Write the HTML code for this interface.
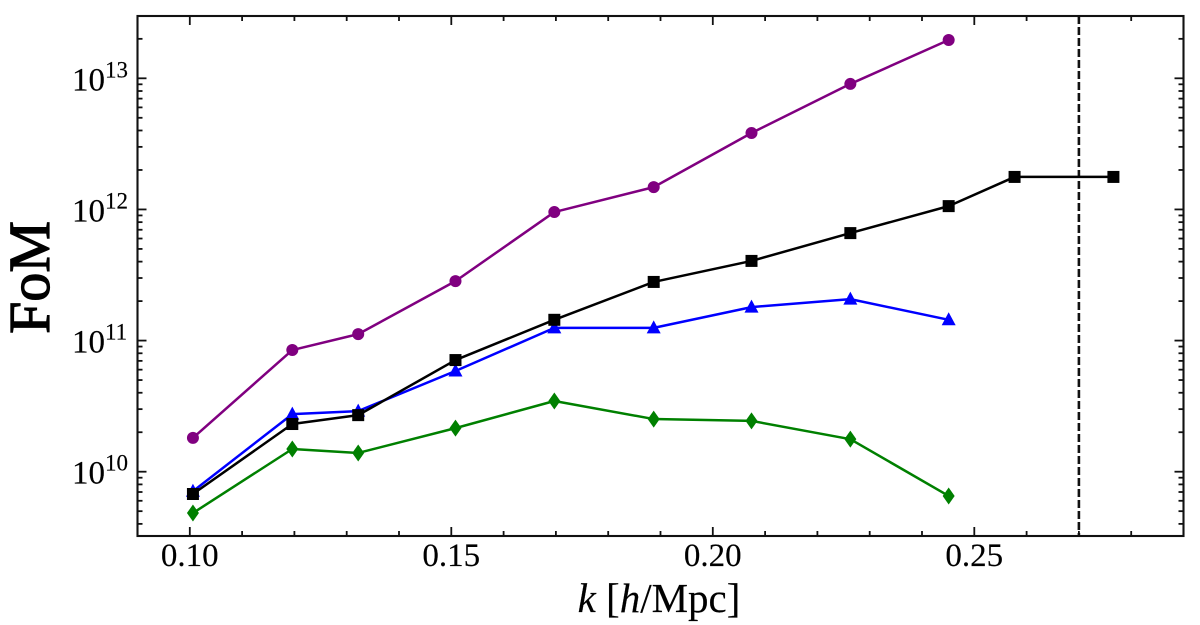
<!DOCTYPE html>
<html>
<head>
<meta charset="utf-8">
<title>FoM vs k</title>
<style>
html,body{margin:0;padding:0;background:#fff;width:1200px;height:625px;overflow:hidden}
svg{display:block}
text{font-family:"Liberation Serif",serif;fill:#000;stroke:#000;stroke-width:0.15px}
</style>
</head>
<body>
<svg id="chart" xmlns="http://www.w3.org/2000/svg" width="1200" height="625" viewBox="0 0 1200 625"></svg>
<script>
const kValues = [0.1006, 0.1196, 0.1322, 0.1508, 0.1697, 0.1887, 0.2074, 0.2263, 0.2451, 0.2577, 0.2766];
const purpleValues = [1.81e10, 8.47e10, 1.12e11, 2.84e11, 9.55e11, 1.48e12, 3.83e12, 9.06e12, 1.96e13];
const blueValues = [7.1e9, 2.75e10, 2.9e10, 5.86e10, 1.25e11, 1.25e11, 1.8e11, 2.07e11, 1.44e11];
const blackValues = [6.76e9, 2.31e10, 2.7e10, 7.1e10, 1.44e11, 2.8e11, 4.05e11, 6.6e11, 1.06e12, 1.77e12, 1.77e12];
const greenValues = [4.84e9, 1.49e10, 1.39e10, 2.15e10, 3.46e10, 2.52e10, 2.44e10, 1.77e10, 6.53e9];
const xTickLabels = ['0.10', '0.15', '0.20', '0.25'];
const xMinorTicks = [0.09, 0.10, 0.11, 0.12, 0.13, 0.14, 0.15, 0.16, 0.17, 0.18, 0.19, 0.20, 0.21, 0.22, 0.23, 0.24, 0.25, 0.26, 0.27, 0.28, 0.29];
const yExponents = [10, 11, 12, 13];
const yMinorMultipliers = [2, 3, 4, 5, 6, 7, 8, 9];
const cutoffK = [0.27];

const NS = 'http://www.w3.org/2000/svg';
const svg = document.getElementById('chart');
const L = 137.5, R = 1183.5, T = 16, B = 536;
const INK = '#111';
function xScale(k) { return L + (k - 0.09) / 0.2 * (R - L); }
function yScale(v) { return 471.7 - (Math.log10(v) - 10) * 131.13; }
function make(tag, attrs, parent) {
  const el = document.createElementNS(NS, tag);
  for (const a in attrs) el.setAttribute(a, attrs[a]);
  (parent || svg).appendChild(el);
  return el;
}
function tick(x1, y1, x2, y2, w, name) {
  const t = make('line', { x1: x1, y1: y1, x2: x2, y2: y2, stroke: INK, 'stroke-width': w });
  
  
}

// x ticks
xMinorTicks.forEach(function (k) {
  const x = xScale(k);
  if (x <= L + 1 || x >= R - 1) return;
  const major = Math.abs(Math.round(k * 100) % 5) === 0;
  const len = major ? 9 : 5;
  tick(x, B, x, B - len, 1.8, major ? 'x-major-tick' : 'x-minor-tick');
  tick(x, T, x, T + len, 1.8, major ? 'x-major-tick-top' : 'x-minor-tick-top');
});
xTickLabels.forEach(function (s) {
  const t = make('text', { x: xScale(parseFloat(s)), y: 566, 'text-anchor': 'middle', 'font-size': 33 });
  t.textContent = s;
  
  
});

// y ticks
[9].concat(yExponents).forEach(function (e) {
  yMinorMultipliers.forEach(function (m) {
    const y = yScale(m * Math.pow(10, e));
    if (y <= T + 1 || y >= B - 1) return;
    tick(L, y, L + 5, y, 1.8, 'y-minor-tick');
    tick(R, y, R - 5, y, 1.8, 'y-minor-tick-right');
  });
});
yExponents.forEach(function (e) {
  const y = yScale(Math.pow(10, e));
  tick(L, y, L + 9, y, 1.8, 'y-major-tick');
  tick(R, y, R - 9, y, 1.8, 'y-major-tick-right');
  const base = make('text', { x: 72, y: y + 12, 'font-size': 33 });
  base.textContent = '10';
  
  
  const sup = make('text', { x: 105, y: y - 1, 'font-size': 23 });
  sup.textContent = String(e);
  
  
});

// reference line
const cutoff = make('line', { x1: xScale(cutoffK[0]), y1: T, x2: xScale(cutoffK[0]), y2: B, stroke: '#111', 'stroke-width': 2.6, 'stroke-dasharray': '8 3' });



function drawSeries(values, color, name, marker) {
  const g = make('g', {});
  
  
  const pts = values.map(function (v, i) { return xScale(kValues[i]).toFixed(2) + ',' + yScale(v).toFixed(2); }).join(' ');
  const line = make('polyline', { points: pts, fill: 'none', stroke: color, 'stroke-width': 2.5, 'stroke-linejoin': 'round' }, g);
  
  
  values.forEach(function (v, i) {
    const x = xScale(kValues[i]), y = yScale(v);
    let m;
    if (marker === 'circle') m = make('circle', { cx: x, cy: y, r: 6, fill: color }, g);
    if (marker === 'square') m = make('rect', { x: x - 6, y: y - 6, width: 12, height: 12, fill: color }, g);
    if (marker === 'triangle') m = make('polygon', { points: (x) + ',' + (y - 7.5) + ' ' + (x + 7) + ',' + (y + 5.5) + ' ' + (x - 7) + ',' + (y + 5.5), fill: color }, g);
    if (marker === 'diamond') m = make('polygon', { points: x + ',' + (y - 8.5) + ' ' + (x + 6) + ',' + y + ' ' + x + ',' + (y + 8.5) + ' ' + (x - 6) + ',' + y, fill: color }, g);
    
    
  });
}
drawSeries(purpleValues, '#800080', 'purple', 'circle');
drawSeries(blueValues, '#0000ff', 'blue', 'triangle');
drawSeries(greenValues, '#008000', 'green', 'diamond');
drawSeries(blackValues, '#000000', 'black', 'square');

// frame
const frame = make('rect', { x: L, y: T, width: R - L, height: B - T, fill: 'none', stroke: INK, 'stroke-width': 2.1 });



// axis titles
const xTitle = make('text', { x: 659, y: 612, 'text-anchor': 'middle', 'font-size': 41 });


const s1 = make('tspan', { 'font-style': 'italic' }, xTitle); s1.textContent = 'k';
const s2 = make('tspan', {}, xTitle); s2.textContent = ' [';
const s3 = make('tspan', { 'font-style': 'italic' }, xTitle); s3.textContent = 'h';
const s4 = make('tspan', {}, xTitle); s4.textContent = '/Mpc]';

const yTitle = make('text', { x: 0, y: 0, 'text-anchor': 'middle', 'font-size': 58, transform: 'translate(49,277.5) rotate(-90)' });
yTitle.textContent = 'FoM';


yTitle.style.strokeWidth = '1.2px';
</script>
</body>
</html>
